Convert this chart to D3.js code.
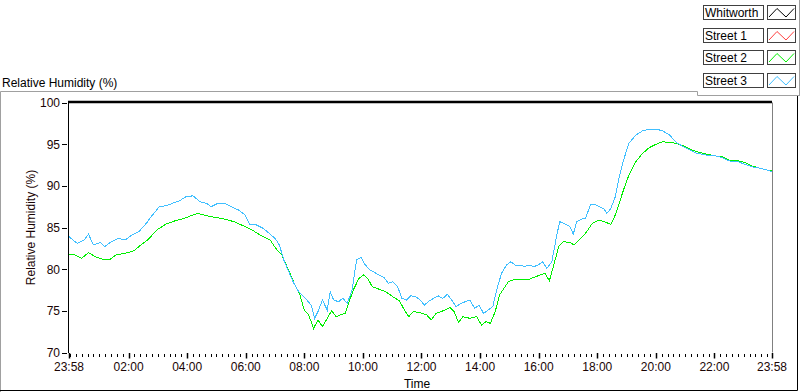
<!DOCTYPE html>
<html>
<head>
<meta charset="utf-8">
<script src="https://cdn.jsdelivr.net/npm/d3@7"></script>
<style>
  body { margin: 0; background: #fff; }
  svg { display: block; font-family: "Liberation Sans", Arial, sans-serif; }
</style>
</head>
<body>
<div id="chart"></div>
<script>
// legend
const seriesNames = ["Whitworth", "Street 1", "Street 2", "Street 3"];
const seriesColors = ["#000000", "#ff4040", "#00f000", "#40bfff"];

// axes
const yTicks = [70, 75, 80, 85, 90, 95, 100];
const xTickMinutes = [0, 122, 242, 362, 482, 602, 722, 842, 962, 1082, 1202, 1322, 1440];
const xTickLabels = ["23:58", "02:00", "04:00", "06:00", "08:00", "10:00", "12:00",
  "14:00", "16:00", "18:00", "20:00", "22:00", "23:58"];

// Street 2 (green), minutes after 23:58 and RH %
const street2Time = [0, 12, 26, 40, 54, 68, 82, 96, 115, 133,
  147, 161, 180, 198, 217, 236, 254, 264, 282, 301,
  319, 338, 357, 375, 394, 412, 426, 436, 445, 454,
  463, 473, 482, 491, 501, 510, 519, 529, 538, 547,
  556, 566, 575, 584, 594, 603, 612, 621, 635, 649,
  663, 677, 687, 696, 705, 719, 733, 742, 752, 766,
  780, 789, 798, 807, 821, 835, 845, 854, 863, 873,
  882, 891, 900, 910, 924, 938, 952, 965, 975, 984,
  993, 1003, 1012, 1026, 1035, 1045, 1058, 1072, 1086, 1100,
  1110, 1119, 1128, 1137, 1147, 1161, 1175, 1189, 1203, 1216,
  1230, 1244, 1258, 1272, 1286, 1305, 1323, 1337, 1351, 1370,
  1384, 1398, 1416, 1430, 1440];
const street2RH = [81.8, 81.7, 81.3, 82.0, 81.5, 81.2, 81.1, 81.7, 81.9, 82.2,
  82.9, 83.5, 84.7, 85.4, 85.8, 86.1, 86.5, 86.7, 86.4, 86.2,
  86.0, 85.7, 85.2, 84.7, 84.0, 83.5, 82.3, 81.7, 80.5, 79.3,
  78.1, 76.9, 75.1, 74.5, 72.9, 73.9, 73.1, 74.1, 75.0, 74.3,
  74.5, 74.7, 76.3, 77.7, 78.9, 79.3, 78.9, 77.9, 77.6, 77.3,
  76.7, 76.2, 75.1, 74.3, 74.9, 74.8, 74.5, 73.9, 74.7, 75.0,
  75.4, 74.9, 73.6, 74.3, 74.1, 74.3, 73.3, 73.7, 73.5, 74.9,
  76.9, 77.7, 78.5, 78.7, 78.8, 78.7, 79.0, 79.3, 79.5, 78.6,
  80.5, 82.7, 83.3, 83.2, 82.9, 83.5, 84.3, 85.5, 85.9, 85.6,
  85.4, 86.5, 88.1, 89.7, 91.3, 92.9, 93.9, 94.6, 95.0, 95.3,
  95.2, 95.1, 94.8, 94.4, 94.1, 93.8, 93.6, 93.5, 93.1, 93.0,
  92.8, 92.4, 92.1, 91.9, 91.8];

// Street 3 (blue)
const street3Time = [0, 8, 17, 31, 40, 50, 64, 73, 87, 101,
  115, 129, 143, 157, 171, 185, 198, 212, 226, 240,
  254, 268, 282, 291, 305, 319, 333, 347, 361, 370,
  384, 398, 412, 422, 431, 440, 450, 459, 468, 477,
  487, 496, 503, 510, 519, 529, 535, 542, 552, 561,
  570, 580, 589, 598, 607, 617, 626, 635, 645, 654,
  663, 673, 682, 691, 700, 710, 719, 728, 738, 747,
  756, 766, 775, 784, 793, 803, 812, 821, 831, 840,
  849, 859, 868, 877, 886, 896, 905, 914, 924, 933,
  942, 952, 961, 970, 979, 989, 998, 1005, 1017, 1026,
  1033, 1040, 1049, 1058, 1068, 1077, 1086, 1096, 1102, 1110,
  1119, 1128, 1137, 1147, 1161, 1175, 1189, 1203, 1216, 1230,
  1244, 1258, 1272, 1286, 1305, 1323, 1337, 1351, 1370, 1384,
  1398, 1416, 1430, 1440];
const street3RH = [83.9, 83.5, 83.1, 83.5, 84.2, 82.9, 83.2, 82.7, 83.3, 83.7,
  83.5, 84.1, 84.5, 85.4, 86.5, 87.5, 87.6, 87.9, 88.2, 88.7,
  88.8, 88.1, 87.9, 87.5, 87.9, 87.9, 87.5, 87.1, 86.5, 85.4,
  85.3, 84.9, 84.2, 83.7, 82.9, 81.1, 79.7, 78.5, 77.5, 76.9,
  76.3, 75.7, 74.1, 74.9, 76.3, 75.1, 77.3, 76.3, 76.1, 76.5,
  75.9, 77.5, 81.1, 81.4, 80.5, 79.9, 79.6, 79.3, 79.0, 78.3,
  78.5, 77.9, 76.5, 76.3, 76.8, 76.7, 76.3, 75.7, 76.2, 76.5,
  76.8, 76.5, 77.0, 76.3, 75.5, 75.9, 76.1, 76.3, 75.3, 75.7,
  74.7, 75.1, 75.5, 77.7, 79.5, 80.5, 80.9, 80.5, 80.5, 80.3,
  80.5, 80.3, 80.5, 80.9, 80.1, 80.9, 83.7, 85.7, 85.4, 85.1,
  84.2, 85.7, 86.0, 86.1, 87.7, 87.8, 87.5, 87.2, 86.7, 87.3,
  88.7, 91.3, 93.3, 95.1, 96.1, 96.6, 96.8, 96.8, 96.6, 96.1,
  95.2, 94.7, 94.3, 93.9, 93.7, 93.6, 93.4, 93.0, 92.9, 92.6,
  92.3, 92.1, 91.9, 91.7];

const W = 800, H = 392;
const PLOT = { LEFT: 69, RIGHT: 772, TOP: 102.5, BOTTOM: 352.5 };

const svg = d3.select("#chart").append("svg")
  .attr("width", W)
  .attr("height", H);

const x = d3.scaleLinear().domain([0, 1440]).range([PLOT.LEFT, PLOT.RIGHT]);
const y = d3.scaleLinear().domain([70, 100]).range([PLOT.BOTTOM, PLOT.TOP]);

// outer frame
svg.append("path")
  .attr("d", "M0.5,392V91.5H697.5V95.5H800")
  .attr("fill", "none").attr("stroke", "#a0a0a0");
svg.append("line").attr("x1", 799.5).attr("x2", 799.5).attr("y1", 0).attr("y2", 96)
  .attr("stroke", "#a0a0a0");
svg.append("path")
  .attr("d", "M0,390.5H797.5V96")
  .attr("fill", "none").attr("stroke", "#000");

// title
svg.append("text")
  .attr("x", 2).attr("y", 87)
  .attr("font-size", 12)
  .text("Relative Humidity (%)");

// plot borders
svg.append("line")
  .attr("x1", PLOT.RIGHT + 0.5).attr("x2", PLOT.RIGHT + 0.5)
  .attr("y1", PLOT.TOP).attr("y2", PLOT.BOTTOM)
  .attr("stroke", "#808080");

// lines
svg.append("clipPath").attr("id", "clip")
  .append("rect")
  .attr("x", PLOT.LEFT).attr("y", PLOT.TOP)
  .attr("width", PLOT.RIGHT - PLOT.LEFT + 3).attr("height", PLOT.BOTTOM - PLOT.TOP);

const line = d3.line()
  .x((d) => x(d[0]))
  .y((d) => y(d[1]));

const series = [
  { color: seriesColors[2], pts: d3.zip(street2Time, street2RH) },
  { color: seriesColors[3], pts: d3.zip(street3Time, street3RH) },
];

svg.append("g").attr("clip-path", "url(#clip)")
  .selectAll("path")
  .data(series)
  .enter()
  .append("path")
  .attr("d", (d) => line(d.pts))
  .attr("fill", "none")
  .attr("stroke", (d) => d.color)
  .attr("stroke-width", 1)
  .attr("shape-rendering", "crispEdges");

// y axis
svg.append("line")
  .attr("x1", PLOT.LEFT - 0.5).attr("x2", PLOT.LEFT - 0.5)
  .attr("y1", PLOT.TOP - 1.5).attr("y2", PLOT.BOTTOM + 0.5)
  .attr("stroke", "#000");
svg.append("line")
  .attr("x1", PLOT.LEFT - 1).attr("x2", PLOT.RIGHT)
  .attr("y1", PLOT.TOP - 0.5).attr("y2", PLOT.TOP - 0.5)
  .attr("stroke", "#000").attr("stroke-width", 2.5);

const yAxis = svg.append("g");
yAxis.selectAll("line")
  .data(yTicks)
  .enter()
  .append("line")
  .attr("x1", PLOT.LEFT - 7).attr("x2", PLOT.LEFT - 2)
  .attr("y1", (d) => Math.round(y(d)) + 0.5).attr("y2", (d) => Math.round(y(d)) + 0.5)
  .attr("stroke", "#000");
yAxis.selectAll("text")
  .data(yTicks)
  .enter()
  .append("text")
  .attr("x", PLOT.LEFT - 9)
  .attr("y", (d) => y(d) + 4.5)
  .attr("text-anchor", "end")
  .attr("font-size", 12)
  .attr("fill", "#1a0505")
  .text((d) => d);

svg.append("text")
  .attr("transform", `translate(35, ${(PLOT.TOP + PLOT.BOTTOM) / 2}) rotate(-90)`)
  .attr("text-anchor", "middle")
  .attr("font-size", 12)
  .attr("fill", "#1a0505")
  .text("Relative Humidity (%)");

// x axis
const xAxis = svg.append("g");
const minorTicks = d3.range(2, 1440, 12).filter((m) => !xTickMinutes.includes(m));
xAxis.selectAll(".minor")
  .data(minorTicks)
  .enter()
  .append("line")
  .attr("class", "minor")
  .attr("x1", (d) => Math.round(x(d)) + 0.5).attr("x2", (d) => Math.round(x(d)) + 0.5)
  .attr("y1", PLOT.BOTTOM + 1.5).attr("y2", PLOT.BOTTOM + 4.5)
  .attr("stroke", "#000");
xAxis.selectAll(".major")
  .data(xTickMinutes)
  .enter()
  .append("line")
  .attr("class", "major")
  .attr("x1", (d) => Math.round(x(d)) + 0.5).attr("x2", (d) => Math.round(x(d)) + 0.5)
  .attr("y1", PLOT.BOTTOM + 0.5).attr("y2", PLOT.BOTTOM + 6)
  .attr("stroke", "#000").attr("stroke-width", 1.5);
xAxis.selectAll("text")
  .data(xTickMinutes)
  .enter()
  .append("text")
  .attr("x", (d) => x(d))
  .attr("y", 371)
  .attr("text-anchor", "middle")
  .attr("font-size", 12)
  .attr("fill", "#1a0505")
  .text((d, i) => xTickLabels[i]);

svg.append("text")
  .attr("x", 417).attr("y", 388)
  .attr("text-anchor", "middle")
  .attr("font-size", 12)
  .text("Time");

// legend
const legend = svg.append("g");
const rows = legend.selectAll("g")
  .data(seriesNames)
  .enter()
  .append("g")
  .attr("transform", (d, i) => `translate(0, ${Math.round(5 + i * 22.6)})`);
rows.append("rect")
  .attr("x", 703.5).attr("y", 0.5)
  .attr("width", 60).attr("height", 14)
  .attr("fill", "#fff").attr("stroke", "#404040");
rows.append("text")
  .attr("x", 705).attr("y", 11.5)
  .attr("font-size", 12)
  .text((d) => d);
rows.append("rect")
  .attr("x", 767.5).attr("y", 0.5)
  .attr("width", 28).attr("height", 14)
  .attr("fill", "#fff").attr("stroke", "#404040");
rows.append("path")
  .attr("d", "M769,12L777,3.5L786,12L794,3.5")
  .attr("fill", "none")
  .attr("stroke", (d, i) => seriesColors[i]);
</script>
</body>
</html>
